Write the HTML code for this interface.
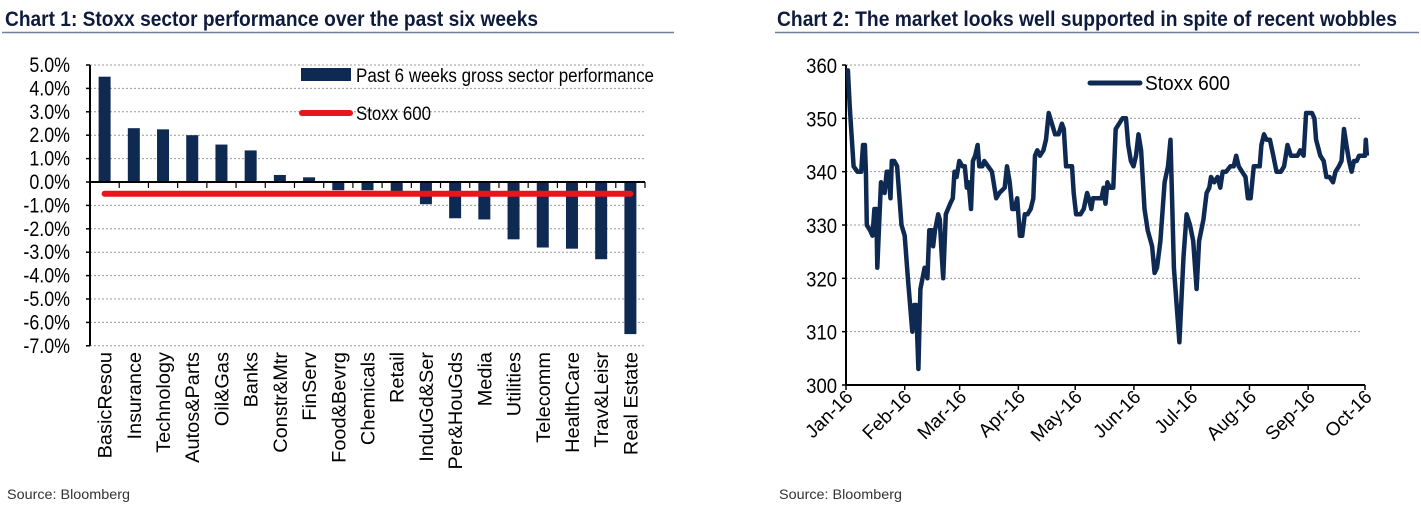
<!DOCTYPE html>
<html><head><meta charset="utf-8"><style>
body{margin:0;background:#fff;width:1421px;height:517px;overflow:hidden;font-family:"Liberation Sans",sans-serif}
svg{position:absolute;left:0;top:0}
</style></head><body>
<svg id="s" width="1421" height="517" xmlns="http://www.w3.org/2000/svg">
<text x="5" y="26" font-weight="bold" font-size="21" fill="#0f1b3d" textLength="533" lengthAdjust="spacingAndGlyphs">Chart 1: Stoxx sector performance over the past six weeks</text>
<line x1="2" y1="32.5" x2="674" y2="32.5" stroke="#6d7f99" stroke-width="1.5"/>
<text x="777" y="26" font-weight="bold" font-size="21" fill="#0f1b3d" textLength="620" lengthAdjust="spacingAndGlyphs">Chart 2: The market looks well supported in spite of recent wobbles</text>
<line x1="775" y1="32.5" x2="1419" y2="32.5" stroke="#6d7f99" stroke-width="1.5"/>
<text x="7" y="499" font-size="14" fill="#333" textLength="123" lengthAdjust="spacingAndGlyphs">Source: Bloomberg</text>
<text x="779" y="499" font-size="14" fill="#333" textLength="123" lengthAdjust="spacingAndGlyphs">Source: Bloomberg</text>
<g id="c1"></g><g id="c2"></g>
</svg>
<script>
const sectors=["BasicResou","Insurance","Technology","Autos&Parts","Oil&Gas","Banks","Constr&Mtr","FinServ","Food&Bevrg","Chemicals","Retail","InduGd&Ser","Per&HouGds","Media","Utilities","Telecomm","HealthCare","Trav&Leisr","Real Estate"];
const sectorPerf=[4.5,2.3,2.25,2.0,1.6,1.35,0.3,0.2,-0.35,-0.35,-0.45,-0.95,-1.55,-1.6,-2.45,-2.8,-2.85,-3.3,-6.5];
const stoxxPerf=-0.5;
const yTicks1=[5,4,3,2,1,0,-1,-2,-3,-4,-5,-6,-7];
const days=[0,1,2,4,6,8,9,10,10.5,11,12.7,14,15,16,16.5,17.5,18.5,19.3,20.4,21.5,22.4,23.5,24.2,25.5,27,29.3,31,32.7,35,36,37,38.2,39.3,41.5,43,44,45.3,46,47,48.7,49.5,50.4,51.3,52.7,55,56.4,57.3,58.4,59.8,61.5,62.7,63.8,64.7,66,67,68.2,69.5,70.4,72,73,75,77,79.3,81,83.8,85,86.4,87.8,89,90.4,91.8,93,94.4,95.8,97.5,98.9,99.8,101,102.4,104.2,105.6,107,108.7,110.4,112.2,114,115,116.2,118.4,119.3,120.2,121.5,123.8,125.5,127.3,128.2,129.5,130.4,132.7,134.9,136,137,138,139.3,141.1,142.4,144.2,146,147.8,149,150.4,151.8,153.1,154.4,155.8,157.6,159.3,161.6,162.9,164.2,166,168.2,170,171.3,173.1,176,178.2,179.8,181.6,183.3,185.1,186.4,188.7,190.4,191.8,192.7,194.4,196.2,197.6,198.9,200.7,202.9,204.7,206,207.3,209.1,210.9,212.2,213.6,215.3,217.1,218.4,219.3,220.7,222,223.8,225.6,227.3,229.6,231.3,233.1,234.9,236.7,238.4,239.8,241.6,242.9,244.7,246,247.3,248.2,250.4,252.2,253.6,255.3,257.1,258.4,260.2,261.6,262.9,264.2,265.6,266.9,268.2,269.6,270.9,272.7,274,274.4,275];
const stoxx=[359,359,352,341,340,340,345,345,340,330,329,328,333,333,322,330,338,337,336,340,340,335,342,342,341,330,328,320,310,315,315,303,318,322,320,329,329,326,329,332,331,325,320,332,334,335,340,339,342,341,341,337,338,333,342,343,345,341,341,342,341,340,335,336,337,341,338,333,333,335,328,328,332,332,333,335,343,344,343,344,346,351,349,347,347,349,348,341,341,341,336,332,332,333,336,335,333,335,335,335,337,334,338,337,337,348,349,350,350,345,342,341,343,347,344,333,329,326,321,322,327,338,341,346,322,308,324,332,330,327,318,327,331,336,337,339,338,339,337,340,340,341,341,343,341,340,339,335,335,341,341,341,345,347,346,346,343,340,340,341,345,343,343,343,344,343,351,351,351,350,346,343,342,339,339,338,340,341,342,348,345,342,340,342,342,343,343,343,346,343];
const months=["Jan-16","Feb-16","Mar-16","Apr-16","May-16","Jun-16","Jul-16","Aug-16","Sep-16","Oct-16"];
const monthDays=[0,31,60,91,121,152,182,213,244,274];
const yTicks2=[360,350,340,330,320,310,300];
const NS="http://www.w3.org/2000/svg";
function mk(p,t,a){const e=document.createElementNS(NS,t);for(const k in a)e.setAttribute(k,a[k]);p.appendChild(e);return e;}
// chart 1
const c1=document.getElementById('c1');
const X0=90,X1=645,y1=v=>182-v*23.4;
const bw=(X1-X0)/sectors.length;
yTicks1.forEach(v=>{
 if(v!==0){const g=mk(c1,'line',{x1:X0,x2:X1,y1:y1(v),y2:y1(v),stroke:'#999','stroke-dasharray':'2,2','stroke-width':1});
 }
 const t=mk(c1,'text',{x:0,y:0,'text-anchor':'end','font-size':21,fill:'#000',transform:`translate(70,${y1(v)+7}) scale(0.85,1)`});t.textContent=v.toFixed(1)+'%';
 
 const tk=mk(c1,'line',{x1:X0-4,x2:X0,y1:y1(v),y2:y1(v),stroke:'#000','stroke-width':1.5});
 
});
sectors.forEach((s,i)=>{
 const cx=X0+bw*(i+0.5),v=sectorPerf[i];
 const r=mk(c1,'rect',{x:cx-6,width:12,y:Math.min(y1(v),y1(0)),height:Math.abs(y1(v)-y1(0)),fill:'#0f2a52'});
 
 const tk=mk(c1,'line',{x1:X0+bw*(i+1),x2:X0+bw*(i+1),y1:y1(0),y2:y1(0)+6,stroke:'#000','stroke-width':1.2});
 
 const t=mk(c1,'text',{x:0,y:0,'text-anchor':'end','font-size':19,fill:'#000',transform:`translate(${cx+7},352) rotate(-90) scale(1.05,1)`});t.textContent=s;
 
});
let a=mk(c1,'line',{x1:X0,x2:X0,y1:y1(5),y2:y1(-7),stroke:'#000','stroke-width':2});
a=mk(c1,'line',{x1:X0,x2:X1,y1:y1(0),y2:y1(0),stroke:'#000','stroke-width':2});
a=mk(c1,'line',{x1:X0+bw*0.5,x2:X0+bw*(sectors.length-0.5),y1:y1(stoxxPerf),y2:y1(stoxxPerf),stroke:'#e8161b','stroke-width':6,'stroke-linecap':'round'});

a=mk(c1,'rect',{x:301,y:68,width:50,height:13,fill:'#0f2a52'});
a=mk(c1,'text',{x:356,y:82,'font-size':19,textLength:298,lengthAdjust:'spacingAndGlyphs'});a.textContent='Past 6 weeks gross sector performance';
a=mk(c1,'line',{x1:302,x2:350,y1:113,y2:113,stroke:'#e8161b','stroke-width':6,'stroke-linecap':'round'});
a=mk(c1,'text',{x:356,y:120,'font-size':19,textLength:75,lengthAdjust:'spacingAndGlyphs'});a.textContent='Stoxx 600';
// chart 2
const c2=document.getElementById('c2');
const P0=846,P1=1365,x2=d=>P0+d*(P1-P0)/274,y2=v=>385-(v-300)*5.333;
yTicks2.forEach(v=>{
 if(v!==300){const g=mk(c2,'line',{x1:P0,x2:1362,y1:y2(v),y2:y2(v),stroke:'#999','stroke-dasharray':'2,2','stroke-width':1});
 }
 const t=mk(c2,'text',{x:0,y:0,'text-anchor':'end','font-size':21,transform:`translate(837,${y2(v)+8}) scale(0.88,1)`});t.textContent=v;
 
 const tk=mk(c2,'line',{x1:P0-4,x2:P0,y1:y2(v),y2:y2(v),stroke:'#000','stroke-width':1.5});
 
});
months.forEach((m,i)=>{
 const x=x2(monthDays[i]);
 const tk=mk(c2,'line',{x1:x,x2:x,y1:385,y2:390,stroke:'#000','stroke-width':1.5});
 
 const t=mk(c2,'text',{x:0,y:0,'text-anchor':'end','font-size':19,transform:`translate(${x+8},398) rotate(-45)`});t.textContent=m;
 
});
a=mk(c2,'line',{x1:P0,x2:P0,y1:y2(360),y2:385,stroke:'#000','stroke-width':2});
a=mk(c2,'line',{x1:P0,x2:P1,y1:385,y2:385,stroke:'#000','stroke-width':2});
const pts=days.map((d,i)=>x2(d).toFixed(1)+','+y2(stoxx[i]).toFixed(1)).join(' ');
a=mk(c2,'polyline',{points:pts,fill:'none',stroke:'#0f2a52','stroke-width':4.5,'stroke-linejoin':'round'});

a=mk(c2,'line',{x1:1090,x2:1140,y1:83,y2:83,stroke:'#0f2a52','stroke-width':5,'stroke-linecap':'round'});
a=mk(c2,'text',{x:1145,y:90,'font-size':20,textLength:85,lengthAdjust:'spacingAndGlyphs'});a.textContent='Stoxx 600';
</script>
</body></html>
